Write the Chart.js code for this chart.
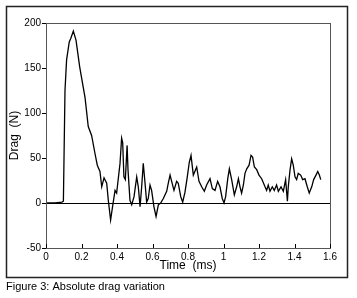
<!DOCTYPE html>
<html>
<head>
<meta charset="utf-8">
<script src="https://cdn.jsdelivr.net/npm/chart.js@4/dist/chart.umd.min.js"></script>
<style>
  body { margin: 0; background: #fff; }
  canvas { display: block; }
</style>
</head>
<body>
<canvas id="dragChart" width="357" height="298"></canvas>
<script>
// Thời gian (ms)
const times = [
  0, 0.05, 0.09, 0.098, 0.107, 0.116, 0.131, 0.14, 0.154, 0.169, 0.19, 0.22,
  0.238, 0.257, 0.276, 0.289, 0.304, 0.314, 0.327, 0.342, 0.351, 0.364, 0.375,
  0.389, 0.398, 0.417, 0.426, 0.432, 0.439, 0.447, 0.457, 0.462, 0.473, 0.483,
  0.496, 0.511, 0.52, 0.53, 0.539, 0.548, 0.558, 0.567, 0.576, 0.586, 0.595,
  0.608, 0.62, 0.633, 0.646, 0.661, 0.68, 0.689, 0.699, 0.708, 0.721, 0.736,
  0.745, 0.759, 0.77, 0.783, 0.796, 0.807, 0.817, 0.83, 0.849, 0.862, 0.877,
  0.892, 0.905, 0.924, 0.937, 0.952, 0.967, 0.98, 0.993, 1.003, 1.012, 1.024,
  1.033, 1.046, 1.061, 1.074, 1.084, 1.093, 1.102, 1.112, 1.121, 1.131, 1.144,
  1.155, 1.164, 1.174, 1.187, 1.2, 1.215, 1.234, 1.243, 1.252, 1.262, 1.275,
  1.286, 1.299, 1.309, 1.324, 1.337, 1.35, 1.36, 1.365, 1.375, 1.384, 1.393,
  1.403, 1.412, 1.421, 1.435, 1.446, 1.459, 1.472, 1.483, 1.497, 1.508, 1.521,
  1.531, 1.54, 1.548
];
// Lực cản (N)
const drag = [
  0, 0, 1, 2, 125, 159, 179, 183, 191, 181, 151, 117,
  85, 75, 55, 42, 35, 18, 28, 22, 3, -19, -4,
  14, 11, 44, 72, 67, 29, 26, 64, 37, 3, -2,
  7, 29, 18, -4, 18, 44, 22, 1, 5, 20, 14,
  -4, -15, -2, 0, 5, 13, 22, 31, 24, 14, 24,
  22, 7, 1, 12, 29, 45, 53, 31, 40, 24, 18,
  13, 20, 27, 16, 14, 24, 18, 5, 0, 7, 27,
  38, 26, 9, 18, 27, 18, 11, 20, 33, 38, 42,
  53, 51, 40, 37, 31, 27, 18, 14, 20, 13, 18,
  14, 20, 13, 18, 13, 26, 2, 18, 37, 49, 42,
  29, 26, 33, 31, 26, 27, 18, 11, 18, 26, 31,
  35, 31, 26
];
const xTicks = [0, 0.2, 0.4, 0.6, 0.8, 1, 1.2, 1.4, 1.6];
const yTicks = [-50, 0, 50, 100, 150, 200];

const points = times.map((t, i) => ({ x: t, y: drag[i] }));

// Khung, chú thích và vạch trục x hướng vào trong
const framePlugin = {
  id: "frame",
  beforeDraw(chart) {
    const ctx = chart.ctx;
    ctx.save();
    ctx.fillStyle = "#fff";
    ctx.fillRect(0, 0, chart.width, chart.height);
    ctx.restore();
  },
  afterDraw(chart) {
    const ctx = chart.ctx;
    const a = chart.chartArea;
    const xs = chart.scales.x;
    ctx.save();
    ctx.strokeStyle = "#555";
    ctx.lineWidth = 1;
    ctx.strokeRect(a.left + 0.5, a.top + 0.5, a.right - a.left, a.bottom - a.top);
    ctx.strokeStyle = "#000";
    ctx.beginPath();
    xTicks.forEach((v) => {
      const px = Math.round(xs.getPixelForValue(v)) + 0.5;
      ctx.moveTo(px, a.bottom);
      ctx.lineTo(px, a.bottom - 4);
    });
    ctx.stroke();
    ctx.strokeStyle = "#222";
    ctx.lineWidth = 1.5;
    ctx.strokeRect(6.5, 6.5, 341, 271);
    ctx.fillStyle = "#000";
    ctx.font = "11px 'Liberation Sans', Arial, sans-serif";
    ctx.textBaseline = "alphabetic";
    ctx.fillText("Figure 3: Absolute drag variation", 6, 290);
    ctx.restore();
  },
};

const config = {
  type: "scatter",
  data: {
    datasets: [
      {
        data: points,
        showLine: true,
        borderColor: "#000",
        borderWidth: 1.3,
        pointRadius: 0,
        tension: 0,
      },
    ],
  },
  options: {
    responsive: false,
    animation: false,
    layout: { padding: { top: 23, right: 27, left: 0, bottom: 25 } },
    plugins: { legend: { display: false }, tooltip: { enabled: false } },
    scales: {
      x: {
        type: "linear",
        min: 0,
        max: 1.6,
        afterBuildTicks: (s) => { s.ticks = xTicks.map((v) => ({ value: v })); },
        afterFit: (s) => { s.height = 25; },
        grid: { display: false, drawTicks: false, tickLength: 0 },
        border: { display: true, color: "#000", width: 1 },
        ticks: {
          padding: 3,
          color: "#000",
          font: { family: "'Liberation Sans', Arial, sans-serif", size: 10 },
          callback: (v) => String(parseFloat(v.toFixed(1))),
        },
        title: {
          display: true,
          text: "Time  (ms)",
          color: "#000",
          padding: { top: 0, bottom: 0 },
          font: { family: "'Liberation Sans', Arial, sans-serif", size: 12 },
        },
      },
      y: {
        min: -50,
        max: 200,
        afterBuildTicks: (s) => { s.ticks = yTicks.map((v) => ({ value: v })); },
        afterFit: (s) => { s.width = 46; },
        grid: {
          drawOnChartArea: true,
          color: (c) => (c.tick && c.tick.value === 0 ? "#000" : "rgba(0,0,0,0)"),
          tickColor: "#000",
          tickLength: 4,
          lineWidth: 1,
        },
        border: { display: true, color: "#000", width: 1 },
        ticks: {
          padding: 1,
          color: "#000",
          font: { family: "'Liberation Sans', Arial, sans-serif", size: 10 },
        },
        title: {
          display: true,
          text: "Drag  (N)",
          color: "#000",
          padding: { top: 7, bottom: 0 },
          font: { family: "'Liberation Sans', Arial, sans-serif", size: 12 },
        },
      },
    },
  },
  plugins: [framePlugin],
};

// Vẽ biểu đồ
const dragChart = new Chart(document.getElementById("dragChart"), config);
</script>
</body>
</html>
